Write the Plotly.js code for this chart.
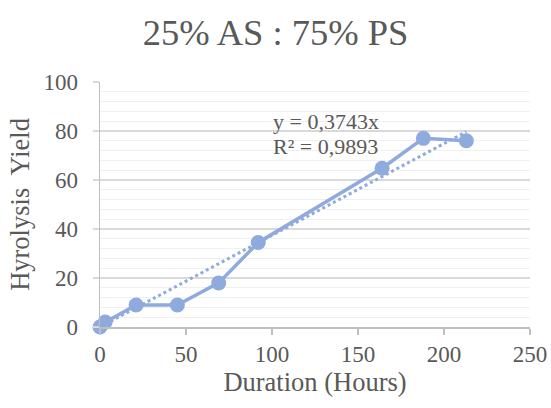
<!DOCTYPE html>
<html><head><meta charset="utf-8">
<script src="https://cdn.plot.ly/plotly-3.0.1.min.js"></script>
<style>html,body{margin:0;padding:0;background:#fff}</style>
</head><body><div id="chart" style="width:551px;height:408px"></div>
<script>
const durationHours = [0, 3, 21, 45, 69, 92, 164, 188, 213];
const hydrolysisYield = [0, 2, 9, 9, 18, 34.5, 64.8, 77, 76];
const trendSlope = 0.3743;
const trendLabel = ["y = 0,3743x", "R² = 0,9893"];
const xTicks = [0, 50, 100, 150, 200, 250];
const yTicks = [0, 20, 40, 60, 80, 100];

const trendX = [durationHours[0], durationHours[durationHours.length - 1]];
const trendY = trendX.map(x => trendSlope * x);
const col = '#8faadc';
const txt = '#595959';
const font = 'Liberation Serif, Times New Roman, serif';

const data = [
  {x: trendX, y: trendY, mode: 'lines', line: {color: col, width: 3, dash: 'dot'}, hoverinfo: 'skip', cliponaxis: false},
  {x: durationHours, y: hydrolysisYield, mode: 'lines+markers', line: {color: col, width: 3.5},
   marker: {color: col, size: 15}, cliponaxis: false}
];
const layout = {
  width: 551, height: 408,
  margin: {l: 100, r: 21, t: 82, b: 81},
  paper_bgcolor: '#fff', plot_bgcolor: '#fff',
  showlegend: false,
  font: {family: font, size: 23, color: txt},
  title: {text: '25% AS : 75% PS', font: {family: font, size: 36.5, color: txt}, x: 0.5, xanchor: 'center', y: 0.922, yanchor: 'middle'},
  xaxis: {range: [0, 250], tickvals: xTicks, ticktext: xTicks.map(String), showgrid: false, zeroline: false,
    showline: true, linecolor: '#bfbfbf', linewidth: 1.5, ticks: 'outside', ticklen: 6, tickcolor: '#bfbfbf', tickwidth: 1.5,
    tickfont: {family: font, size: 23, color: txt},
    title: {text: 'Duration (Hours)', font: {family: font, size: 26.5, color: txt}, standoff: 4}},
  yaxis: {range: [0, 100], tickvals: yTicks, ticktext: yTicks.map(String), showgrid: true, gridcolor: '#d9d9d9', gridwidth: 1.5,
    zeroline: false, showline: true, linecolor: '#bfbfbf', linewidth: 1.5, ticks: 'outside', ticklen: 6, tickcolor: '#d9d9d9', tickwidth: 1.5,
    ticklabelstandoff: 10,
    minor: {dtick: 4, showgrid: true, gridcolor: '#f0f0f0', gridwidth: 1},
    tickfont: {family: font, size: 23, color: txt},
    title: {text: 'Hyrolysis\u00a0 Yield', font: {family: font, size: 26.5, color: txt}, standoff: 6}},
  annotations: [
    {xref: 'paper', yref: 'paper', x: (271 - 100) / 430, y: (327 - 121) / 245, xanchor: 'left', yanchor: 'middle',
     text: trendLabel[0], showarrow: false, font: {family: font, size: 22, color: txt}},
    {xref: 'paper', yref: 'paper', x: (271 - 100) / 430, y: (327 - 146) / 245, xanchor: 'left', yanchor: 'middle',
     text: trendLabel[1], showarrow: false, font: {family: font, size: 22, color: txt}}
  ]
};
Plotly.newPlot('chart', data, layout, {displayModeBar: false, staticPlot: true});
</script></body></html>
